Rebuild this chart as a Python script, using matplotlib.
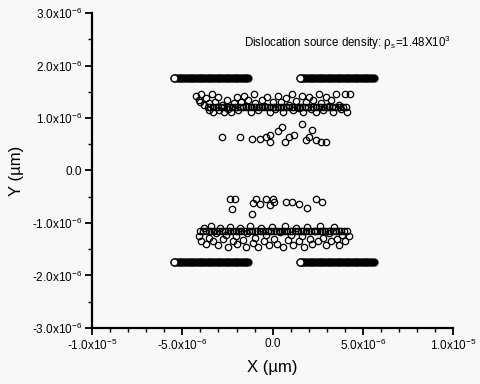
import numpy as np
import matplotlib
matplotlib.use("Agg")
import matplotlib.pyplot as plt
from matplotlib.ticker import FixedLocator, MultipleLocator

plt.rcParams["font.family"] = ["Liberation Sans", "DejaVu Sans"]
plt.rcParams["mathtext.fontset"] = "custom"
plt.rcParams["mathtext.rm"] = "Liberation Sans"
plt.rcParams["mathtext.it"] = "Liberation Sans:italic"

SCALE = 1e-6  # all positions below are in units of 1e-6

# pile-ups at the obstacles (dense rows of dislocations)
PILE_LEFT_X = [-5.45, -5.35, -5.25, -5.15, -5.05, -4.95, -4.85, -4.75, -4.65, -4.55,
               -4.45, -4.35, -4.25, -4.15, -4.05, -3.95, -3.85, -3.75, -3.65, -3.55,
               -3.45, -3.35, -3.25, -3.15, -3.05, -2.95, -2.85, -2.75, -2.65, -2.55,
               -2.45, -2.35, -2.25, -2.15, -2.05, -1.95, -1.85, -1.75, -1.65, -1.55,
               -1.45, -1.35]
PILE_RIGHT_X = [1.50, 1.60, 1.70, 1.80, 1.90, 2.00, 2.10, 2.20, 2.30, 2.40,
                2.50, 2.60, 2.70, 2.80, 2.90, 3.00, 3.10, 3.20, 3.30, 3.40,
                3.50, 3.60, 3.70, 3.80, 3.90, 4.00, 4.10, 4.20, 4.30, 4.40,
                4.50, 4.60, 4.70, 4.80, 4.90, 5.00, 5.10, 5.20, 5.30, 5.40,
                5.50, 5.60]
PILE_TOP_Y = 1.77
PILE_BOT_Y = -1.75

# dense row inside the upper / lower band
ROW_TOP_X = [-3.6, -3.45, -3.3, -3.15, -3.0, -2.85, -2.7, -2.55, -2.4, -2.25, -2.1,
             -1.95, -1.8, -1.65, -1.5, -1.35, -1.2, -1.05, -0.9, -0.75, -0.6, -0.45,
             -0.3, -0.15, 0.0, 0.15, 0.3, 0.45, 0.6, 0.75, 0.9, 1.05, 1.2, 1.35, 1.5,
             1.65, 1.8, 1.95, 2.1, 2.25, 2.4, 2.55, 2.7, 2.85, 3.0, 3.15, 3.3, 3.45,
             3.6, 3.75, 3.9, 4.05]
ROW_TOP_Y = 1.21
ROW_BOT_X = [-4.0, -3.85, -3.7, -3.55, -3.4, -3.25, -3.1, -2.95, -2.8, -2.65, -2.5,
             -2.35, -2.2, -2.05, -1.9, -1.75, -1.6, -1.45, -1.3, -1.15, -1.0, -0.85,
             -0.7, -0.55, -0.4, -0.25, -0.1, 0.05, 0.2, 0.35, 0.5, 0.65, 0.8, 0.95,
             1.1, 1.25, 1.4, 1.55, 1.7, 1.85, 2.0, 2.15, 2.3, 2.45, 2.6, 2.75, 2.9,
             3.05, 3.2, 3.35, 3.5, 3.65, 3.8, 3.95, 4.1]
ROW_BOT_Y = -1.16

# scattered dislocations, upper band
UP_X = [-4.25, -4.1, -4.0, -3.95, -3.8, -3.7, -3.55, -3.5, -3.35, -3.3, -3.2, -3.05,
        -2.95, -2.8, -2.7, -2.55, -2.45, -2.3, -2.15, -2.0, -1.9, -1.75, -1.6, -1.5,
        -1.35, -1.2, -1.05, -0.95, -0.8, -0.6, -0.5, -0.3, -0.15, 0.0, 0.15, 0.3,
        0.45, 0.6, 0.75, 0.9, 1.05, 1.15, 1.3, 1.45, 1.6, 1.7, 1.85, 2.0, 2.1,
        2.25, 2.4, 2.55, 2.7, 2.8, 2.95, 3.1, 3.25, 3.35, 3.5, 3.65, 3.8, 4.0,
        4.1, 4.3]
UP_Y = [1.42, 1.35, 1.30, 1.45, 1.25, 1.38, 1.15, 1.28, 1.45, 1.12, 1.30, 1.40,
        1.15, 1.25, 1.12, 1.35, 1.18, 1.12, 1.28, 1.40, 1.15, 1.30, 1.42, 1.22,
        1.35, 1.12, 1.45, 1.28, 1.15, 1.35, 1.22, 1.40, 1.12, 1.30, 1.18, 1.42,
        1.30, 1.12, 1.38, 1.25, 1.45, 1.15, 1.32, 1.20, 1.42, 1.12, 1.30, 1.40,
        1.18, 1.35, 1.12, 1.45, 1.28, 1.15, 1.40, 1.22, 1.35, 1.12, 1.45, 1.25,
        1.18, 1.45, 1.12, 1.45]

# scattered dislocations, upper inner cluster
UPIN_X = [-2.8, -1.8, -1.15, -0.7, -0.35, -0.15, 0.27, -0.15, 0.5, 0.66, 0.93,
          1.2, 1.65, 1.87, 2.0, 2.2, 2.4, 2.7, 2.98]
UPIN_Y = [0.63, 0.63, 0.60, 0.60, 0.63, 0.68, 0.75, 0.55, 0.82, 0.55, 0.63,
          0.67, 0.88, 0.59, 0.63, 0.78, 0.59, 0.55, 0.55]

# scattered dislocations, lower inner cluster
LOIN_X = [-2.37, -2.1, -2.25, -1.1, -0.9, -1.15, -0.7, -0.35, 0.0, -0.15, 0.1,
          0.75, 1.1, 1.48, 1.9, 2.4, 2.75]
LOIN_Y = [-0.55, -0.55, -0.74, -0.61, -0.55, -0.82, -0.63, -0.55, -0.55, -0.65,
          -0.60, -0.60, -0.60, -0.63, -0.72, -0.55, -0.60]

# scattered dislocations, lower band
LO_X = [-4.1, -3.95, -3.8, -3.7, -3.55, -3.4, -3.3, -3.15, -3.0, -2.9, -2.75, -2.6,
        -2.5, -2.35, -2.2, -2.05, -1.95, -1.8, -1.65, -1.5, -1.4, -1.25, -1.1,
        -0.95, -0.8, -0.65, -0.5, -0.35, -0.2, -0.05, 0.1, 0.25, 0.4, 0.55, 0.7,
        0.85, 1.0, 1.15, 1.3, 1.45, 1.6, 1.75, 1.9, 2.05, 2.2, 2.35, 2.5, 2.65,
        2.8, 2.95, 3.1, 3.25, 3.4, 3.55, 3.7, 3.85, 4.0, 4.25]
LO_Y = [-1.25, -1.35, -1.10, -1.40, -1.28, -1.05, -1.35, -1.20, -1.42, -1.10,
        -1.30, -1.22, -1.45, -1.08, -1.35, -1.25, -1.40, -1.10, -1.32, -1.45,
        -1.20, -1.05, -1.38, -1.28, -1.45, -1.10, -1.35, -1.22, -1.42, -1.08,
        -1.30, -1.40, -1.18, -1.45, -1.05, -1.32, -1.22, -1.42, -1.10, -1.35,
        -1.25, -1.45, -1.08, -1.30, -1.40, -1.15, -1.35, -1.05, -1.28, -1.42,
        -1.20, -1.35, -1.08, -1.30, -1.42, -1.22, -1.35, -1.25]

X_TICKS = [-1e-5, -5e-6, 0.0, 5e-6, 1e-5]
X_LABELS = ["-1.0x10$^{-5}$", "-5.0x10$^{-6}$", "0.0", "5.0x10$^{-6}$", "1.0x10$^{-5}$"]
Y_TICKS = [-3e-6, -2e-6, -1e-6, 0.0, 1e-6, 2e-6, 3e-6]
Y_LABELS = ["-3.0x10$^{-6}$", "-2.0x10$^{-6}$", "-1.0x10$^{-6}$", "0.0",
            "1.0x10$^{-6}$", "2.0x10$^{-6}$", "3.0x10$^{-6}$"]

BG = "#f8f8f8"

fig = plt.figure(figsize=(4.8, 3.84), dpi=100, facecolor=BG)
ax = fig.add_axes([0.192, 0.146, 0.752, 0.82], facecolor=BG)

mk = dict(marker="o", linestyle="none", markersize=4.6, markerfacecolor="none",
          markeredgecolor="black", markeredgewidth=0.9)
pile = dict(marker="o", linestyle="none", markersize=5.0, markerfacecolor="black",
            markeredgecolor="black", markeredgewidth=0.9)
pile_end = dict(marker="o", linestyle="none", markersize=5.0, markerfacecolor="white",
                markeredgecolor="black", markeredgewidth=0.9)

s = SCALE
for px in (PILE_LEFT_X, PILE_RIGHT_X):
    px = np.array(px) * s
    for py in (PILE_TOP_Y, PILE_BOT_Y):
        ax.plot(px, np.full(len(px), py * s), **pile)
        ax.plot(px[:1], [py * s], **pile_end)

ax.plot(np.array(ROW_TOP_X) * s, np.full(len(ROW_TOP_X), ROW_TOP_Y * s), **mk)
ax.plot(np.array(ROW_BOT_X) * s, np.full(len(ROW_BOT_X), ROW_BOT_Y * s), **mk)
ax.plot(np.array(UP_X) * s, np.array(UP_Y) * s, **mk)
ax.plot(np.array(UPIN_X) * s, np.array(UPIN_Y) * s, **mk)
ax.plot(np.array(LOIN_X) * s, np.array(LOIN_Y) * s, **mk)
ax.plot(np.array(LO_X) * s, np.array(LO_Y) * s, **mk)

ax.set_xlim(-1e-5, 1e-5)
ax.set_ylim(-3e-6, 3e-6)
for side in ("top", "right"):
    ax.spines[side].set_visible(False)
for side in ("left", "bottom"):
    ax.spines[side].set_linewidth(1.6)

ax.xaxis.set_major_locator(FixedLocator(X_TICKS))
ax.set_xticklabels(X_LABELS)
ax.xaxis.set_minor_locator(MultipleLocator(1e-6))
ax.yaxis.set_major_locator(FixedLocator(Y_TICKS))
ax.set_yticklabels(Y_LABELS)
ax.yaxis.set_minor_locator(MultipleLocator(5e-7))
ax.tick_params(which="major", length=5, width=1.3, direction="out", labelsize=8.5, pad=2)
ax.tick_params(which="minor", length=3, width=1.0, direction="out")

ax.set_xlabel("X (\u00b5m)", fontsize=12, labelpad=5)
ax.set_ylabel("Y (\u00b5m)", fontsize=12, labelpad=6)

ax.text(0.995, 0.905, r"Dislocation source density: $\mathrm{\rho_s}$=1.48X10$^{3}$",
        transform=ax.transAxes, ha="right", va="center", fontsize=8.3)

fig.savefig("out.png", dpi=100, facecolor=BG)
